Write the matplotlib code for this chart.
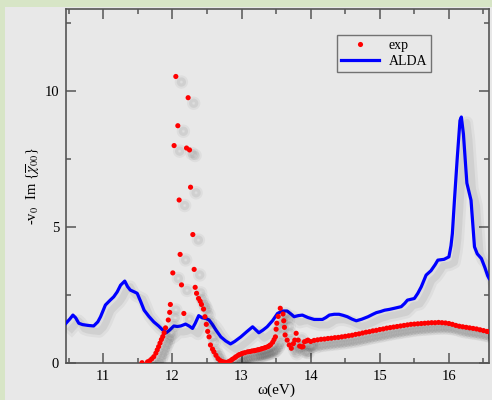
import numpy as np
import matplotlib
matplotlib.use('Agg')
import matplotlib.pyplot as plt
import matplotlib.patheffects as pe
from matplotlib.patches import Rectangle
from matplotlib.lines import Line2D

# ALDA curve
alda_w = [10.46, 10.52, 10.56, 10.60, 10.645, 10.70, 10.78, 10.86, 10.92, 10.96,
          11.03, 11.10, 11.15, 11.20, 11.25, 11.31, 11.35, 11.39, 11.45, 11.49,
          11.54, 11.59, 11.66, 11.73, 11.80, 11.86, 11.91, 11.96, 12.02, 12.07,
          12.12, 12.19, 12.24, 12.29, 12.33, 12.38, 12.43, 12.49, 12.53, 12.58,
          12.63, 12.70, 12.77, 12.84, 12.90, 12.99, 13.08, 13.16, 13.25, 13.31,
          13.37, 13.45, 13.52, 13.59, 13.66, 13.72, 13.76, 13.82, 13.88, 13.96,
          14.05, 14.17, 14.22, 14.27, 14.34, 14.41, 14.47, 14.53, 14.60, 14.66,
          14.74, 14.83, 14.90, 14.95, 15.01, 15.07, 15.14, 15.21, 15.31, 15.36,
          15.40, 15.50, 15.55, 15.60, 15.67, 15.74, 15.80, 15.84, 15.93, 16.00,
          16.03, 16.05, 16.08, 16.12, 16.16, 16.18, 16.21, 16.26, 16.32, 16.37,
          16.41, 16.47, 16.52, 16.56, 16.58]
alda_v = [1.45, 1.62, 1.75, 1.65, 1.45, 1.40, 1.37, 1.35, 1.50, 1.69,
          2.12, 2.30, 2.42, 2.60, 2.85, 3.00, 2.80, 2.67, 2.60, 2.55,
          2.25, 1.93, 1.70, 1.50, 1.35, 1.20, 1.10, 1.20, 1.35, 1.33,
          1.35, 1.42, 1.35, 1.26, 1.45, 1.73, 1.65, 1.62, 1.57, 1.40,
          1.20, 0.95, 0.80, 0.69, 0.78, 0.95, 1.15, 1.32, 1.10, 1.20,
          1.32, 1.55, 1.81, 1.90, 1.90, 1.78, 1.69, 1.73, 1.75, 1.66,
          1.59, 1.59, 1.66, 1.75, 1.78, 1.78, 1.74, 1.69, 1.60, 1.54,
          1.60, 1.69, 1.78, 1.84, 1.88, 1.93, 1.96, 2.00, 2.06, 2.18,
          2.30, 2.36, 2.55, 2.79, 3.22, 3.38, 3.60, 3.77, 3.80, 3.89,
          4.30, 4.75, 5.97, 7.50, 8.90, 9.03, 8.40, 6.60, 5.97, 4.26,
          4.00, 3.83, 3.50, 3.20, 3.10]

# experimental points
exp_w = [11.56, 11.64, 11.67, 11.70, 11.73, 11.76, 11.78, 11.80, 11.82, 11.84,
         11.86, 11.88, 11.90, 11.94, 11.96, 11.97, 12.005, 12.024, 12.049, 12.078,
         12.097, 12.111, 12.131, 12.165, 12.204, 12.227, 12.247, 12.262, 12.295, 12.314,
         12.329, 12.349, 12.378, 12.401, 12.42, 12.45, 12.47, 12.49, 12.51, 12.53,
         12.55, 12.58, 12.60, 12.63, 12.66, 12.69, 12.72, 12.75, 12.78, 12.82,
         12.85, 12.87, 12.90, 12.92, 12.95, 12.97, 13.00, 13.02, 13.05, 13.09,
         13.12, 13.15, 13.18, 13.20, 13.23, 13.25, 13.28, 13.30, 13.33, 13.35,
         13.38, 13.40, 13.42, 13.45, 13.47, 13.49, 13.50, 13.51, 13.53, 13.56,
         13.60, 13.61, 13.62, 13.63, 13.66, 13.69, 13.72, 13.75, 13.77, 13.79,
         13.82, 13.84, 13.87, 13.89, 13.91, 13.94, 13.96, 14.00, 14.05, 14.10,
         14.15, 14.20, 14.25, 14.30, 14.35, 14.40, 14.45, 14.50, 14.55, 14.60,
         14.65, 14.70, 14.75, 14.80, 14.85, 14.90, 14.95, 15.00, 15.05, 15.10,
         15.15, 15.20, 15.25, 15.30, 15.35, 15.40, 15.45, 15.50, 15.55, 15.60,
         15.65, 15.70, 15.75, 15.80, 15.85, 15.90, 15.95, 16.00, 16.05, 16.10,
         16.15, 16.20, 16.25, 16.30, 16.35, 16.40, 16.45, 16.50, 16.55, 16.58]
exp_v = [0.00, 0.03, 0.07, 0.14, 0.22, 0.35, 0.47, 0.59, 0.72, 0.85,
         0.96, 1.10, 1.28, 1.57, 1.85, 2.14, 3.30, 7.98, 10.52, 8.71,
         5.98, 3.98, 2.86, 1.81, 7.89, 9.74, 7.82, 6.45, 4.71, 3.43,
         2.77, 2.55, 2.36, 2.26, 2.14, 1.97, 1.69, 1.41, 1.15, 0.95,
         0.65, 0.50, 0.40, 0.27, 0.15, 0.08, 0.04, 0.02, 0.01, 0.05,
         0.09, 0.13, 0.18, 0.22, 0.27, 0.30, 0.33, 0.35, 0.37, 0.40,
         0.41, 0.43, 0.44, 0.45, 0.47, 0.48, 0.50, 0.52, 0.54, 0.56,
         0.59, 0.62, 0.66, 0.75, 0.85, 0.95, 1.23, 1.45, 1.70, 2.00,
         1.79, 1.54, 1.30, 1.02, 0.83, 0.65, 0.53, 0.70, 0.83, 1.08,
         0.83, 0.61, 0.58, 0.59, 0.77, 0.80, 0.83, 0.78, 0.82, 0.84,
         0.86, 0.87, 0.89, 0.90, 0.92, 0.93, 0.95, 0.97, 0.99, 1.01,
         1.04, 1.06, 1.09, 1.12, 1.14, 1.17, 1.19, 1.22, 1.24, 1.27,
         1.29, 1.31, 1.33, 1.35, 1.37, 1.39, 1.41, 1.42, 1.43, 1.44,
         1.45, 1.46, 1.47, 1.47, 1.48, 1.47, 1.46, 1.44, 1.41, 1.37,
         1.34, 1.32, 1.30, 1.28, 1.26, 1.24, 1.21, 1.18, 1.15, 1.14]

green = '#d7e5c6'
grey = '#e8e8e8'
plt.rcParams['font.family'] = 'Liberation Serif'
plt.rcParams['mathtext.fontset'] = 'stix'

fig = plt.figure(figsize=(4.92, 4.0), dpi=100)
fig.patch.set_facecolor(green)
fig.add_artist(Rectangle((5/492, 0), 1, 393/400, transform=fig.transFigure,
                         facecolor=grey, edgecolor='none', zorder=0))
ax = fig.add_axes([66/492, 37.3/400, 423/492, 353.7/400])
ax.set_facecolor(grey)

shadow_line = [pe.SimpleLineShadow(offset=(4, -4), shadow_color='k', alpha=0.04, linewidth=9),
               pe.SimpleLineShadow(offset=(4, -4), shadow_color='k', alpha=0.06, linewidth=5),
               pe.Normal()]
shadow_dot = [pe.SimpleLineShadow(offset=(4, -4), shadow_color='k', alpha=0.04, linewidth=6),
              pe.SimpleLineShadow(offset=(4, -4), shadow_color='k', alpha=0.06, linewidth=3),
              pe.Normal()]

ax.plot(alda_w, alda_v, color='#0000ff', lw=2.3, zorder=3, path_effects=shadow_line)
ax.plot(exp_w, exp_v, 'o', color='#ff0000', ms=3.7, mec='none', zorder=4,
        path_effects=shadow_dot)

ax.set_xlim(10.46, 16.58)
ax.set_ylim(0, 13)
ax.set_xticks([11, 12, 13, 14, 15, 16])
ax.set_xticks(np.arange(10.5, 16.6, 0.5), minor=True)
ax.set_yticks([0, 5, 10])
ax.set_yticks([2.5, 7.5, 12.5], minor=True)
ax.tick_params(which='both', direction='in', top=True, right=True,
               color='#555555', width=1.1, labelsize=10.5)
ax.tick_params(which='major', length=7, pad=5)
ax.tick_params(which='minor', length=3.5)
for s in ax.spines.values():
    s.set_color('#555555')
    s.set_linewidth(1.2)

ax.set_xlabel('ω(eV)', fontsize=11, va='center')
ax.xaxis.set_label_coords(0.498, -0.077)
ax.set_ylabel(r'-v$_0$  Im {$\overline{\chi}_{00}$}', fontsize=10.5, va='center')
ax.yaxis.set_label_coords(-0.077, 0.5)

handles = [Line2D([], [], ls='none', marker='o', color='#ff0000', ms=3.7, mec='none'),
           Line2D([], [], color='#0000ff', lw=2.3)]
leg = ax.legend(handles, ['exp', 'ALDA'], loc='upper left', bbox_to_anchor=(0.641, 0.926),
                fontsize=10, frameon=True, fancybox=False, handlelength=2.7,
                handletextpad=0.7, borderpad=0.3, labelspacing=0.2, borderaxespad=0)
leg.get_frame().set_facecolor('none')
leg.get_frame().set_edgecolor('#555555')
leg.get_frame().set_linewidth(1.0)

fig.savefig('out.png', dpi=100, facecolor=fig.get_facecolor())
